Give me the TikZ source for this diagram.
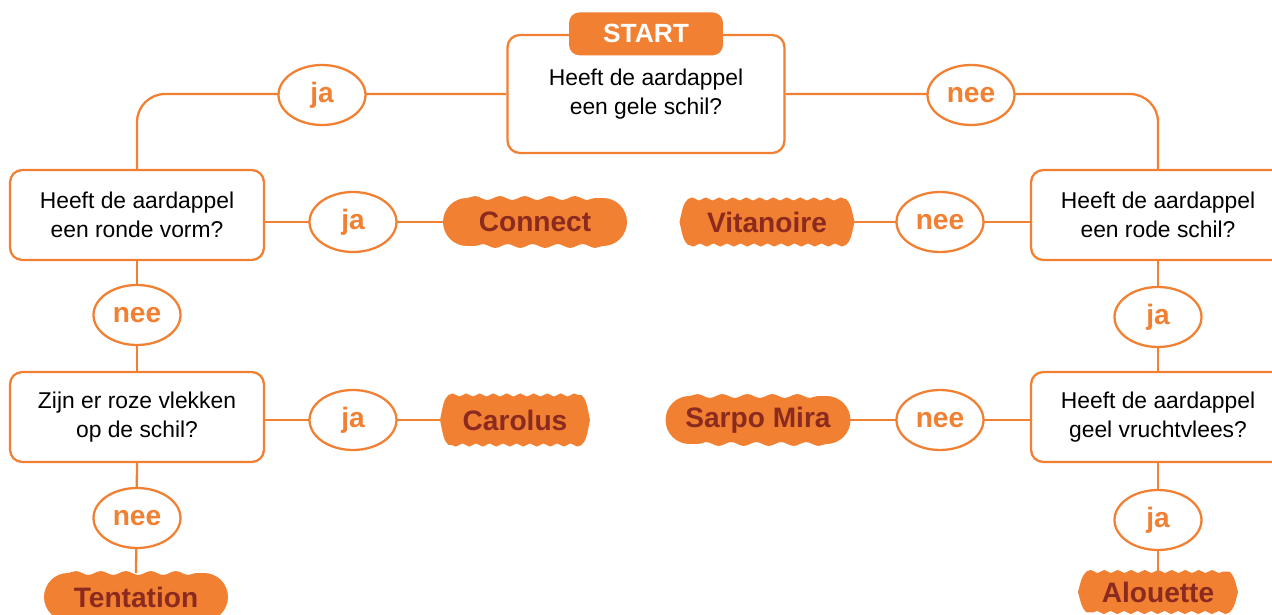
\documentclass[tikz,border=0pt]{standalone}
\usepackage{fontspec}
\setmainfont{Liberation Sans}
\usetikzlibrary{positioning, shapes.geometric, decorations.pathmorphing, backgrounds}
\definecolor{oranje}{RGB}{241,128,50}
\definecolor{bruinrood}{RGB}{139,42,30}
\tikzset{
  link/.style = {draw=oranje, line width=1.3pt},
  question/.style = {rectangle, rounded corners=7pt, draw=oranje, line width=1.3pt,
                     fill=white, minimum width=5.08cm, minimum height=1.8cm,
                     align=center, font=\fontsize{13}{16.5}\selectfont},
  vraagstart/.style = {question, minimum width=5.54cm, minimum height=2.36cm},
  tab/.style = {rectangle, rounded corners=6pt, fill=oranje, text=white,
                minimum width=3.08cm, minimum height=0.86cm,
                font=\fontsize{15}{17}\selectfont\bfseries},
  answer/.style = {ellipse, draw=oranje, line width=1.3pt, fill=white,
                   minimum width=1.74cm, minimum height=1.2cm, inner sep=0pt,
                   text=oranje, font=\fontsize{16}{18}\selectfont\bfseries},
  ras/.style = {text=bruinrood, inner sep=0pt, outer sep=0pt, minimum height=0.96cm,
                font=\fontsize{16}{18}\selectfont\bfseries},
  golf/.style = {decoration={snake, amplitude=1.1pt, segment length=0.5cm}},
  golfje/.style = {decoration={snake, amplitude=0.9pt, segment length=0.27cm}},
}
% vormen achter de rassen
\newcommand\wolkvorm[1]{%
  \fill[oranje] ([xshift=0.48cm]#1.north west)
    decorate[golf] {-- ([xshift=-0.48cm]#1.north east)}
    arc[start angle=90, end angle=-90, radius=0.48cm]
    decorate[golf] {-- ([xshift=0.48cm]#1.south west)}
    arc[start angle=270, end angle=90, radius=0.48cm] -- cycle;}
\newcommand\badgevorm[1]{%
  \fill[oranje] ([xshift=0.17cm]#1.north west)
    decorate[golfje] {-- ([xshift=-0.17cm]#1.north east)}
    .. controls ([xshift=-0.08cm,yshift=-0.1cm]#1.north east) .. (#1.east)
    .. controls ([xshift=-0.08cm,yshift=0.1cm]#1.south east) .. ([xshift=-0.17cm]#1.south east)
    decorate[golfje] {-- ([xshift=0.17cm]#1.south west)}
    .. controls ([xshift=0.08cm,yshift=0.1cm]#1.south west) .. (#1.west)
    .. controls ([xshift=0.08cm,yshift=-0.1cm]#1.north west) .. cycle;}
\begin{document}
\begin{tikzpicture}[x=0.02cm, y=-0.02cm]
  \useasboundingbox (0,0) rectangle (1272,615);

  % vragen
  \node (start) [vraagstart] at (646,94) {Heeft de aardappel\\een gele schil?};
  \node (starttab) [tab] at (start.north) {START};
  \node (q1) [question] at (137,215) {Heeft de aardappel\\een ronde vorm?};
  \node (q2) [question] at (137,417) {Zijn er roze vlekken\\op de schil?};
  \node (q3) [question] at (1158,215) {Heeft de aardappel\\een rode schil?};
  \node (q4) [question] at (1158,417) {Heeft de aardappel\\geel vruchtvlees?};

  % antwoorden
  \node (jaTop) [answer] at (322,95) {ja};
  \node (neeTop) [answer] at (971,95) {nee};
  \node (jaRond) [answer] at (353,222) {ja};
  \node (neeRond) [answer] at (137,315) {nee};
  \node (jaVlek) [answer] at (353,420) {ja};
  \node (neeVlek) [answer] at (137,518) {nee};
  \node (neeRood) [answer] at (940,222) {nee};
  \node (jaRood) [answer] at (1158,317) {ja};
  \node (neeGeel) [answer] at (940,420) {nee};
  \node (jaGeel) [answer] at (1158,520) {ja};

  % rassen
  \node (connect) [ras, minimum width=3.68cm] at (535,222) {Connect};
  \node (carolus) [ras, minimum width=3.0cm, minimum height=1.0cm] at (515,420) {Carolus};
  \node (tentation) [ras, minimum width=3.68cm] at (136,597) {Tentation};
  \node (vitanoire) [ras, minimum width=3.5cm, minimum height=0.92cm] at (767,222) {Vitanoire};
  \node (sarpo) [ras, minimum width=3.7cm] at (758,420) {Sarpo Mira};
  \node (alouette) [ras, minimum width=3.2cm, minimum height=0.82cm] at (1158,592) {Alouette};

  \begin{pgfonlayer}{background}
    \draw[link, rounded corners=16pt] (start.west) -| (q1.north);
    \draw[link, rounded corners=16pt] (start.east) -| (q3.north);
    \draw[link] (q1.south) -- (q2.north);
    \draw[link] (q2.south) -- (tentation.north);
    \draw[link] (q3.south) -- (q4.north);
    \draw[link] (q4.south) -- (alouette.north);
    \draw[link] (jaRond -| q1.east) -- (connect.west);
    \draw[link] (jaVlek -| q2.east) -- (carolus.west);
    \draw[link] (neeRood -| q3.west) -- (vitanoire.east);
    \draw[link] (neeGeel -| q4.west) -- (sarpo.east);
    \wolkvorm{connect}
    \wolkvorm{tentation}
    \wolkvorm{sarpo}
    \badgevorm{carolus}
    \badgevorm{vitanoire}
    \badgevorm{alouette}
  \end{pgfonlayer}
\end{tikzpicture}
\end{document}
